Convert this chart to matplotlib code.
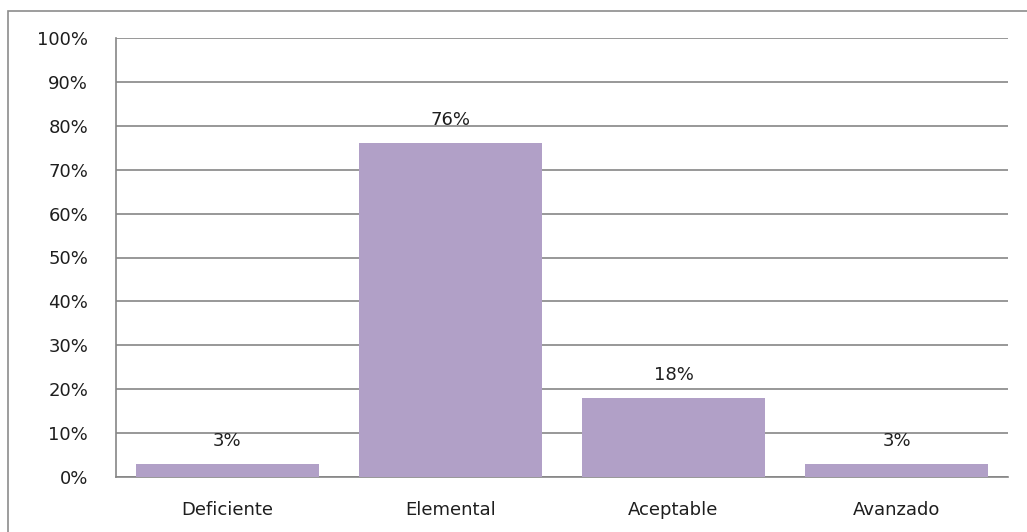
import matplotlib.pyplot as plt
from matplotlib.patches import Rectangle
from matplotlib.ticker import PercentFormatter

# Data
categories = ["Deficiente", "Elemental", "Aceptable", "Avanzado"]
values = [3, 76, 18, 3]
yticks = list(range(0, 101, 10))

fig = plt.figure(figsize=(10.27, 5.32), dpi=100)
ax = fig.add_axes([116 / 1027, 1 - 477 / 532, (1008 - 116) / 1027, (477 - 38) / 532])

# Outer chart border (cropped at right and bottom)
fig.patches.append(Rectangle((8 / 1027, -0.1), 1.2, 1 - 11 / 532 + 0.1,
                             transform=fig.transFigure, fill=False,
                             edgecolor="#8c8c8c", linewidth=1.2))

x = range(len(categories))
bars = ax.bar(x, values, width=0.82, color="#b1a0c7", zorder=3)

for b, v in zip(bars, values):
    ax.annotate(f"{v}%", (b.get_x() + b.get_width() / 2, v),
                xytext=(0, 16.5), textcoords="offset points",
                ha="center", va="center", fontsize=13, color="#1e1e1e",
                zorder=4)

ax.set_xlim(-0.5, len(categories) - 0.5)
ax.set_ylim(0, 100)
ax.set_yticks(yticks)
ax.yaxis.set_major_formatter(PercentFormatter(decimals=0))
ax.set_xticks(list(x))
ax.set_xticklabels(categories)
ax.tick_params(axis="y", length=0, pad=20, labelsize=13, labelcolor="#1e1e1e")
ax.tick_params(axis="x", length=0, pad=17, labelsize=13, labelcolor="#1e1e1e")

ax.grid(axis="y", color="#868686", linewidth=1.2, zorder=0)
for side in ["top", "right"]:
    ax.spines[side].set_visible(False)
ax.spines["left"].set_color("#868686")
ax.spines["left"].set_linewidth(1.2)
ax.spines["bottom"].set_color("#868686")
ax.spines["bottom"].set_linewidth(1.2)

fig.savefig("out.png", dpi=100)
